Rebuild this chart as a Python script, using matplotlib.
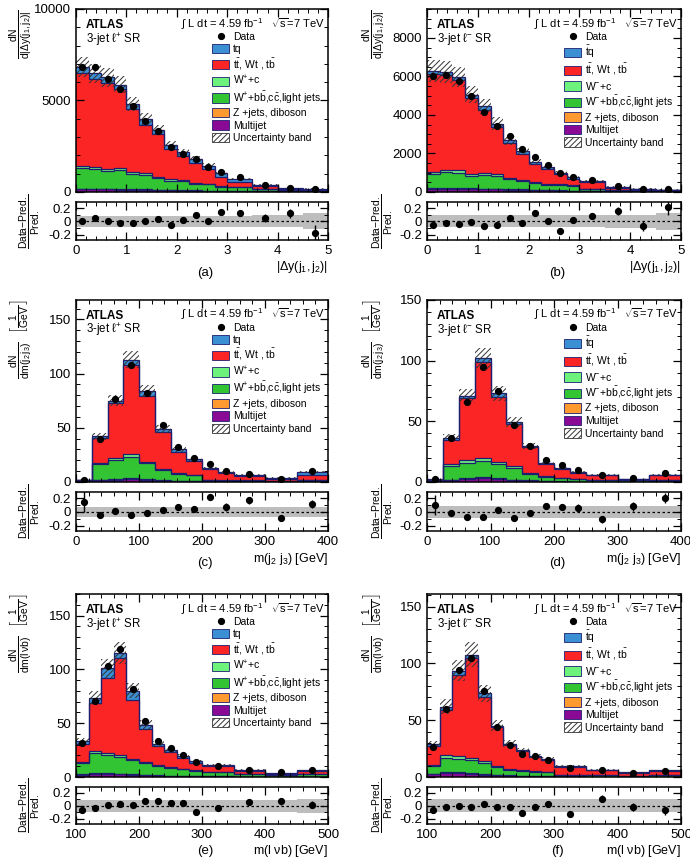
import numpy as np
import matplotlib
matplotlib.use("Agg")
import matplotlib.pyplot as plt
from matplotlib.patches import Patch
from matplotlib.lines import Line2D
from matplotlib.ticker import MultipleLocator, FixedLocator

plt.rcParams["font.family"] = ["Liberation Sans", "DejaVu Sans"]
plt.rcParams["mathtext.fontset"] = "custom"
plt.rcParams["mathtext.rm"] = "Liberation Sans"
plt.rcParams["mathtext.it"] = "Liberation Sans:italic"
plt.rcParams["mathtext.bf"] = "Liberation Sans:bold"
plt.rcParams["mathtext.default"] = "regular"
plt.rcParams["hatch.linewidth"] = 0.7

# ---- binning ----
dy_edges = [0, 0.25, 0.5, 0.75, 1.0, 1.25, 1.5, 1.75, 2.0, 2.25, 2.5, 2.75, 3.0, 3.5, 4.0, 4.5, 5.0]
mjj_edges = [0, 25, 50, 75, 100, 125, 150, 175, 200, 225, 250, 300, 350, 400]
mlvb_edges = [100, 120, 140, 160, 180, 200, 220, 240, 260, 280, 300, 350, 400, 450, 500]

# ---- (a) |dy(j1,j2)|, l+ ----
a_mj = [150, 150, 140, 130, 120, 110, 100, 90, 80, 70, 60, 50, 45, 35, 25, 25]
a_zj = [40, 40, 35, 35, 30, 30, 25, 20, 20, 15, 15, 10, 10, 8, 5, 5]
a_wbb = [1110, 1060, 955, 1015, 820, 790, 625, 510, 480, 365, 335, 230, 195, 107, 65, 65]
a_wc = [140, 140, 110, 120, 105, 90, 80, 65, 70, 50, 50, 40, 30, 20, 15, 15]
a_tt = [5040, 4810, 4740, 4310, 3460, 2650, 2320, 1665, 1295, 1110, 820, 500, 275, 145, 38, 20]
a_tq = [370, 280, 280, 260, 280, 310, 240, 240, 220, 200, 165, 185, 150, 90, 75, 55]
a_data = [6815, 6850, 6200, 5650, 4685, 3890, 3330, 2460, 2090, 1800, 1350, 1075, 835, 405, 220, 165]
a_ratio = [0.0, 0.05, 0.0, -0.03, -0.02, 0.01, 0.03, -0.05, 0.02, 0.10, 0.0, 0.14, 0.12, 0.05, 0.12, -0.17]
a_rerr = [0.015, 0.015, 0.015, 0.015, 0.02, 0.02, 0.02, 0.025, 0.03, 0.03, 0.035, 0.045, 0.04, 0.06, 0.07, 0.11]
a_band = [0.08, 0.08, 0.08, 0.08, 0.08, 0.08, 0.08, 0.08, 0.08, 0.08, 0.08, 0.08, 0.085, 0.09, 0.09, 0.12]

# ---- (b) |dy(j1,j2)|, l- ----
b_mj = [180, 180, 170, 160, 150, 140, 120, 110, 100, 80, 70, 60, 50, 40, 30, 30]
b_zj = [40, 40, 35, 35, 30, 30, 25, 20, 20, 15, 15, 10, 10, 8, 5, 5]
b_wbb = [700, 810, 795, 645, 695, 675, 515, 440, 340, 285, 270, 240, 95, 57, 45, 45]
b_wc = [120, 130, 125, 110, 110, 105, 85, 70, 60, 50, 45, 40, 20, 15, 10, 10]
b_tt = [5060, 4890, 4675, 3930, 3295, 2430, 1795, 1340, 920, 770, 520, 350, 335, 100, 50, 5]
b_tq = [185, 180, 175, 175, 170, 170, 145, 130, 120, 100, 85, 80, 60, 40, 35, 25]
b_data = [6010, 6060, 5770, 4990, 4160, 3410, 2910, 2250, 1820, 1385, 990, 780, 605, 310, 175, 140]
b_ratio = [-0.05, -0.03, -0.04, -0.01, -0.07, -0.06, 0.05, -0.03, 0.12, 0.01, -0.14, 0.02, 0.08, 0.15, -0.07, 0.22]
b_rerr = [0.015, 0.015, 0.015, 0.015, 0.02, 0.02, 0.02, 0.025, 0.03, 0.03, 0.035, 0.04, 0.045, 0.06, 0.08, 0.12]
b_band = [0.09, 0.09, 0.09, 0.09, 0.09, 0.09, 0.09, 0.09, 0.09, 0.09, 0.09, 0.09, 0.09, 0.1, 0.1, 0.13]

# ---- (c) m(j2 j3), l+ ----
c_mj = [0.5, 1.5, 2, 3, 2, 1, 0.8, 0.5, 0.4, 0.3, 0.3, 0.2, 0.4]
c_zj = [0.2, 0.5, 0.6, 0.7, 0.6, 0.4, 0.3, 0.2, 0.1, 0.1, 0.1, 0.1, 0.2]
c_wbb = [0.7, 14.7, 17.6, 19.3, 14.5, 10.0, 6.5, 5.5, 1.4, 0.9, 0.9, 0.4, 1.3]
c_wc = [0.1, 1.0, 1.5, 2.5, 1.5, 1.0, 0.8, 0.6, 0.3, 0.2, 0.2, 0.1, 0.3]
c_tt = [0.3, 22.7, 51.3, 82.5, 61.2, 34.2, 19.6, 12.8, 9.6, 6.9, 4.4, 2.3, 4.6]
c_tq = [0.5, 1.6, 2.0, 5.0, 4.2, 2.4, 2.0, 1.4, 1.2, 0.9, 0.9, 0.9, 2.5]
c_data = [2.2, 39.8, 77, 107.8, 81.7, 52.2, 32.6, 22.4, 16.5, 10.2, 7.8, 3.1, 10]
c_ratio = [0.15, -0.05, 0.01, -0.05, -0.02, 0.03, 0.07, 0.04, 0.22, 0.07, 0.17, -0.09, 0.12]
c_rerr = [0.15, 0.02, 0.02, 0.02, 0.02, 0.02, 0.03, 0.04, 0.04, 0.06, 0.05, 0.05, 0.06]
c_band = [0.07] * 13

# ---- (d) m(j2 j3), l- ----
d_mj = [0.4, 1.5, 2.5, 3.5, 2.5, 1.5, 1, 0.6, 0.4, 0.3, 0.3, 0.2, 0.4]
d_zj = [0.2, 0.4, 0.5, 0.6, 0.5, 0.4, 0.3, 0.2, 0.1, 0.1, 0.1, 0.1, 0.2]
d_wbb = [0.5, 11.6, 12.4, 13.4, 11.5, 9.6, 5.4, 3.4, 2.6, 1.9, 1.4, 1.0, 1.2]
d_wc = [0.1, 1.5, 2.5, 2.5, 2.0, 1.5, 0.8, 0.5, 0.3, 0.2, 0.2, 0.1, 0.2]
d_tt = [0.4, 20, 51.1, 79, 53.5, 34.5, 21, 10.3, 7.1, 5.0, 3.4, 0.7, 3.4]
d_tq = [0.6, 1.5, 2, 3, 3, 1.9, 1.5, 1, 1.2, 0.9, 0.7, 0.4, 0.7]
d_data = [2.5, 36, 66, 95, 75, 46.6, 29.3, 18.2, 13.7, 10.3, 5.6, 3.4, 7.5]
d_ratio = [0.1, -0.01, -0.07, -0.07, 0.03, -0.09, -0.02, 0.08, 0.07, 0.06, -0.11, 0.08, 0.2]
d_rerr = [0.15, 0.02, 0.02, 0.02, 0.02, 0.02, 0.03, 0.04, 0.05, 0.05, 0.05, 0.07, 0.07]
d_band = [0.085] * 13

# ---- (e) m(l nu b), l+ ----
e_mj = [2, 3, 3, 2.5, 2, 1.5, 1.2, 1, 0.8, 0.6, 0.5, 0.3, 0.3, 0.3]
e_zj = [0.5, 0.7, 0.7, 0.6, 0.5, 0.4, 0.3, 0.3, 0.2, 0.2, 0.1, 0.1, 0.1, 0.1]
e_wbb = [10.3, 18.3, 17.0, 15.3, 13.1, 10.9, 8.4, 7.2, 6.2, 4.9, 3.7, 2.4, 1.6, 2.4]
e_wc = [1.2, 2.0, 2.0, 1.8, 1.5, 1.2, 1.0, 0.8, 0.6, 0.5, 0.4, 0.3, 0.2, 0.3]
e_tt = [16.5, 44.4, 69.1, 90.8, 54.4, 31, 17.7, 14, 10.2, 7.2, 5.9, 2.8, 0.9, 2.2]
e_tq = [3.1, 5.3, 9.0, 4.0, 8.7, 3.2, 2.2, 1.6, 1.3, 1.5, 0.9, 0.9, 0.6, 0.9]
e_data = [31.7, 70.6, 103, 118.8, 81.8, 52.3, 33.6, 27, 20.8, 14, 10.6, 6.8, 4.4, 6.8]
e_ratio = [-0.07, -0.04, 0.02, 0.03, 0.02, 0.07, 0.08, 0.05, 0.05, -0.09, -0.04, 0.06, 0.07, 0.02]
e_rerr = [0.04, 0.02, 0.02, 0.02, 0.02, 0.02, 0.025, 0.03, 0.03, 0.035, 0.03, 0.04, 0.05, 0.06]
e_band = [0.09] * 13 + [0.11]

# ---- (f) m(l nu b), l- ----
f_mj = [2.5, 3.5, 3.5, 3, 2, 1.5, 1.2, 1, 0.8, 0.6, 0.4, 0.3, 0.2, 0.3]
f_zj = [0.4, 0.6, 0.6, 0.5, 0.4, 0.3, 0.3, 0.2, 0.2, 0.2, 0.1, 0.1, 0.1, 0.1]
f_wbb = [6.9, 12.7, 11.8, 11.2, 9.7, 6.6, 5.0, 4.0, 3.5, 3.2, 1.3, 1.0, 0.6, 1.4]
f_wc = [1.0, 2.2, 2.2, 2.0, 1.6, 1.0, 0.8, 0.6, 0.5, 0.4, 0.2, 0.1, 0.1, 0.2]
f_tt = [16.1, 40, 71.9, 88, 57.1, 34.5, 21.1, 16.7, 12.5, 10.8, 6.8, 4.3, 2.5, 3.3]
f_tq = [1.8, 3, 3.6, 2.9, 2.9, 1.4, 0.8, 0.9, 0.9, 0.6, 0.6, 0.6, 0.6, 0.5]
f_data = [26.3, 60.2, 94.2, 104.7, 76, 44.4, 28.4, 20.5, 18.1, 15.2, 8.2, 5.8, 3.5, 5]
f_ratio = [-0.07, -0.02, 0.0, -0.02, 0.03, -0.015, -0.02, -0.11, -0.02, 0.025, -0.13, 0.11, -0.015, -0.07]
f_rerr = [0.04, 0.02, 0.02, 0.02, 0.02, 0.025, 0.03, 0.03, 0.03, 0.05, 0.04, 0.05, 0.06, 0.07]
f_band = [0.1] * 14

C_TQ = "#3b8fd3"
C_TT = "#fb2525"
C_WC = "#6df27c"
C_WBB = "#33c433"
C_Z = "#ff9a30"
C_MJ = "#8a0a95"
C_LINE = "#1e1e70"

W, H = 690, 858
fig = plt.figure(figsize=(W / 100, H / 100), dpi=100)


def rect(x0, y0, x1, y1):
    return [x0 / W, 1 - y1 / H, (x1 - x0) / W, (y1 - y0) / H]


def style_axis(ax):
    ax.tick_params(which="both", direction="in", top=True, right=True, labelsize=9.5)
    ax.tick_params(which="major", length=6, width=0.9)
    ax.tick_params(which="minor", length=3, width=0.7)
    for s in ax.spines.values():
        s.set_linewidth(1.1)


def panel(col, row, edges, comps, data, ratio, rerr, band, ylim, ymaj, ymin,
          xmaj, xmin, sign, ylab, xlab, tag, ylab_x):
    xs = [(76, 328), (427, 681)][col]
    ys = [((9, 192), (202, 240)), ((300, 482), (492, 531)), ((594, 777), (787, 824))][row]
    ax = fig.add_axes(rect(xs[0], ys[0][0], xs[1], ys[0][1]))
    axr = fig.add_axes(rect(xs[0], ys[1][0], xs[1], ys[1][1]))

    edges = np.asarray(edges, float)
    centers = 0.5 * (edges[1:] + edges[:-1])
    colors = [C_MJ, C_Z, C_WBB, C_WC, C_TT, C_TQ]
    base = np.zeros(len(centers))
    for vals, c in zip(comps, colors):
        top = base + np.asarray(vals, float)
        ax.stairs(top, edges, baseline=base, fill=True, color=c, lw=0)
        base = top
    base = np.zeros(len(centers))
    for vals in comps:
        base = base + np.asarray(vals, float)
        ax.stairs(base, edges, baseline=None, color=C_LINE, lw=0.9)
    total = base
    band = np.asarray(band, float)
    ax.stairs(total * (1 + band), edges, baseline=total * (1 - band), fill=True,
              facecolor="none", edgecolor="#333333", hatch="//////", lw=0)

    data = np.asarray(data, float)
    ax.errorbar(centers, data, yerr=data * np.asarray(rerr), fmt="o", color="k",
                ms=4.2, elinewidth=1.0, capsize=0, zorder=5)

    ax.set_xlim(edges[0], edges[-1])
    ax.set_ylim(*ylim)
    ax.yaxis.set_major_locator(MultipleLocator(ymaj))
    ax.yaxis.set_minor_locator(MultipleLocator(ymin))
    ax.xaxis.set_major_locator(MultipleLocator(xmaj))
    ax.xaxis.set_minor_locator(MultipleLocator(xmin))
    ax.tick_params(labelbottom=False)
    style_axis(ax)

    ax.text(0.04, 0.913, "ATLAS", fontweight="bold", fontsize=8.5,
            transform=ax.transAxes, va="center")
    ax.text(0.04, 0.835, "3-jet $\\ell^{%s}$ SR" % sign, fontsize=8.3,
            transform=ax.transAxes, va="center")
    ax.text(0.988, 0.92, "∫ L dt = 4.59 fb$^{-1}$   $\\sqrt{s}$=7 TeV", fontsize=8,
            transform=ax.transAxes, va="center", ha="right")
    ax.text(ylab_x, 1.0, ylab, rotation=90, fontsize=10.5, transform=ax.transAxes,
            ha="center", va="top")

    tq_lab = "tq" if sign == "+" else "$\\bar{t}$q"
    handles = [
        Line2D([], [], marker="o", color="k", ls="none", ms=4.2),
        Patch(facecolor=C_TQ, edgecolor=C_LINE, lw=0.6),
        Patch(facecolor=C_TT, edgecolor=C_LINE, lw=0.6),
        Patch(facecolor=C_WC, edgecolor=C_LINE, lw=0.6),
        Patch(facecolor=C_WBB, edgecolor=C_LINE, lw=0.6),
        Patch(facecolor=C_Z, edgecolor=C_LINE, lw=0.6),
        Patch(facecolor=C_MJ, edgecolor=C_LINE, lw=0.6),
        Patch(facecolor="white", edgecolor="#333333", hatch="//////", lw=0.6),
    ]
    labels = [
        "Data", tq_lab, "t$\\bar{t}$, Wt , t$\\bar{b}$",
        "W$^{%s}$+c" % sign,
        "W$^{%s}$+b$\\bar{b}$,c$\\bar{c}$,light jets" % sign,
        "Z +jets, diboson", "Multijet", "Uncertainty band",
    ]
    ax.legend(handles, labels, loc="upper left", bbox_to_anchor=(0.54, 0.877),
              frameon=False, fontsize=7.5, borderpad=0, borderaxespad=0,
              handlelength=1.65, handleheight=1.0, handletextpad=0.35,
              labelspacing=0.22)

    # ratio panel
    axr.stairs(band, edges, baseline=-band, fill=True, color="#bdbdbd", lw=0)
    axr.axhline(0, color="k", ls=(0, (2, 2)), lw=0.9)
    axr.errorbar(centers, ratio, yerr=rerr, fmt="o", color="k", ms=4.2,
                 elinewidth=1.0, capsize=0, zorder=5)
    axr.set_xlim(edges[0], edges[-1])
    axr.set_ylim(-0.28, 0.29)
    axr.yaxis.set_major_locator(FixedLocator([-0.2, 0, 0.2]))
    axr.set_yticklabels(["-0.2", "0", "0.2"])
    axr.yaxis.set_minor_locator(MultipleLocator(0.1))
    axr.xaxis.set_major_locator(MultipleLocator(xmaj))
    axr.xaxis.set_minor_locator(MultipleLocator(xmin))
    style_axis(axr)
    axr.text(ylab_x + 0.035, 0.5, "$\\frac{Data{-}Pred.}{Pred.}$", rotation=90,
             fontsize=10.5, transform=axr.transAxes, ha="center", va="center")
    axr.text(1.0, -0.72, xlab, fontsize=9, transform=axr.transAxes,
             ha="right", va="center")
    cx = (xs[0] + xs[1]) / 2 + 3
    ty = {0: 273, 1: 563, 2: 851}[row]
    fig.text(cx / W, 1 - ty / H, tag, fontsize=9.5, ha="center", va="center")


dy_lab = "$\\frac{dN}{d|\\Delta y(j_{1},j_{2})|}$"
mjj_lab = "$\\frac{dN}{dm(j_{2}\\,j_{3})}\\ \\ \\left[\\frac{1}{GeV}\\right]$"
mlvb_lab = "$\\frac{dN}{dm(l\\,\\nu b)}\\ \\ \\left[\\frac{1}{GeV}\\right]$"

panel(0, 0, dy_edges, [a_mj, a_zj, a_wbb, a_wc, a_tt, a_tq], a_data, a_ratio, a_rerr,
      a_band, (0, 10000), 5000, 1000, 1, 0.2, "+", dy_lab,
      "$|\\Delta y(j_{1},j_{2})|$", "(a)", -0.22)
panel(1, 0, dy_edges, [b_mj, b_zj, b_wbb, b_wc, b_tt, b_tq], b_data, b_ratio, b_rerr,
      b_band, (0, 9500), 2000, 500, 1, 0.2, "-", dy_lab,
      "$|\\Delta y(j_{1},j_{2})|$", "(b)", -0.21)
panel(0, 1, mjj_edges, [c_mj, c_zj, c_wbb, c_wc, c_tt, c_tq], c_data, c_ratio, c_rerr,
      c_band, (0, 168), 50, 10, 100, 20, "+", mjj_lab,
      "m(j$_{2}$ j$_{3}$) [GeV]", "(c)", -0.22)
panel(1, 1, mjj_edges, [d_mj, d_zj, d_wbb, d_wc, d_tt, d_tq], d_data, d_ratio, d_rerr,
      d_band, (0, 150), 50, 10, 100, 20, "-", mjj_lab,
      "m(j$_{2}$ j$_{3}$) [GeV]", "(d)", -0.21)
panel(0, 2, mlvb_edges, [e_mj, e_zj, e_wbb, e_wc, e_tt, e_tq], e_data, e_ratio, e_rerr,
      e_band, (0, 170), 50, 10, 100, 20, "+", mlvb_lab,
      "m(l $\\nu$b) [GeV]", "(e)", -0.22)
panel(1, 2, mlvb_edges, [f_mj, f_zj, f_wbb, f_wc, f_tt, f_tq], f_data, f_ratio, f_rerr,
      f_band, (0, 161), 50, 10, 100, 20, "-", mlvb_lab,
      "m(l $\\nu$b) [GeV]", "(f)", -0.21)

fig.savefig("out.png", dpi=100)
